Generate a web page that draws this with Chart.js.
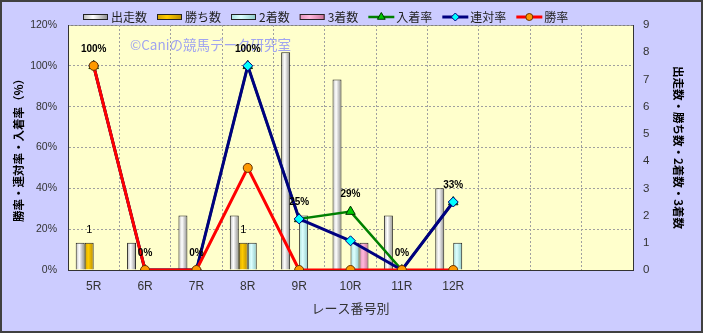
<!DOCTYPE html>
<html>
<head>
<meta charset="utf-8">
<script src="https://cdn.jsdelivr.net/npm/chart.js@4.4.1/dist/chart.umd.min.js"></script>
<style>
  html, body { margin: 0; padding: 0; background: #CCCCFF; }
  canvas { display: block; }
</style>
</head>
<body>
<canvas id="chartRace" width="703" height="333"></canvas>
<script>
/* ---------- Data ---------- */
const races     = ['5R', '6R', '7R', '8R', '9R', '10R', '11R', '12R', '', '', ''];
const starts    = [1, 1, 2, 2, 8, 7, 2, 3, null, null, null];   // 出走数
const wins      = [1, 0, 0, 1, 0, 0, 0, 0, null, null, null];   // 勝ち数
const seconds   = [0, 0, 0, 1, 2, 1, 0, 1, null, null, null];   // 2着数
const thirds    = [0, 0, 0, 0, 0, 1, 0, 0, null, null, null];   // 3着数
const placeRate = [100, 0, 0, 100, 25, 28.6, 0, 33.3, null, null, null]; // 入着率
const top2Rate  = [100, 0, 0, 100, 25, 14.3, 0, 33.3, null, null, null]; // 連対率
const winRate   = [100, 0, 0, 50, 0, 0, 0, 0, null, null, null];        // 勝率

const JP = '"Noto Sans CJK JP", sans-serif';
const LAT = '"Liberation Sans", Arial, sans-serif';
const CAT_PCT = 0.7;

/* ---------- Bar gradient (cylinder look) ---------- */
function barFill(edge, mid, edge2) {
    return (c) => {
        const chart = c.chart, area = chart.chartArea;
        if (!area || c.type !== 'data' || !chart.scales.x) return mid;
        const bw = area.width / races.length * CAT_PCT / 4;
        const cx = chart.scales.x.getPixelForValue(c.dataIndex) + (c.datasetIndex - 1.5) * bw;
        const g = chart.ctx.createLinearGradient(cx - bw / 2, 0, cx + bw / 2, 0);
        g.addColorStop(0, edge);
        g.addColorStop(0.4, mid);
        g.addColorStop(1, edge2);
        return g;
    };
}

const barColors = [
    ['#B8B8B8', '#FFFFFF', '#8C8C8C'],
    ['#D0A000', '#FFCC00', '#B88C00'],
    ['#A8E0E0', '#DDFFFF', '#8CC8C8'],
    ['#E090B8', '#FFB8DC', '#C87098']
];

function barSet(label, data, i) {
    return {
        type: 'bar', label, data, yAxisID: 'y1', order: 4,
        backgroundColor: barFill(...barColors[i]),
        borderColor: '#222', borderWidth: 1,
        categoryPercentage: CAT_PCT, barPercentage: 1
    };
}

/* ---------- Plugins ---------- */
const backdrop = {
    id: 'backdrop',
    beforeDraw(chart) {
        const { ctx, chartArea: a } = chart;
        ctx.save();
        ctx.fillStyle = '#CCCCFF';
        ctx.fillRect(0, 0, chart.width, chart.height);
        ctx.fillStyle = '#FFFFCC';
        ctx.fillRect(a.left, a.top, a.width, a.height);
        ctx.strokeStyle = '#808080';
        ctx.lineWidth = 1;
        ctx.strokeRect(a.left + 0.5, a.top + 0.5, a.width, a.height);
        ctx.restore();
    },
    beforeDatasetsDraw(chart) {
        const ctx = chart.ctx;
        ctx.save();
        ctx.font = '13.5px ' + JP;
        ctx.fillStyle = '#A0A4F0';
        ctx.textBaseline = 'middle';
        ctx.fillText('©Caniの競馬データ研究室', 130, 45);
        ctx.restore();
    },
    afterDraw(chart) {
        const ctx = chart.ctx;
        ctx.save();
        ctx.strokeStyle = '#404040';
        ctx.lineWidth = 2;
        ctx.strokeRect(1, 1, chart.width - 2, chart.height - 2);
        ctx.restore();
    }
};

const valueLabels = {
    id: 'valueLabels',
    afterDatasetsDraw(chart) {
        const ctx = chart.ctx;
        ctx.save();
        ctx.fillStyle = '#000';
        ctx.textAlign = 'center';
        ctx.textBaseline = 'middle';
        ctx.font = 'bold 10px ' + LAT;
        chart.getDatasetMeta(4).data.forEach((pt, i) => {
            if (placeRate[i] == null) return;
            ctx.fillText(Math.round(placeRate[i]) + '%', pt.x, pt.y - 17);
        });
        ctx.font = '11px ' + LAT;
        chart.getDatasetMeta(1).data.forEach((b, i) => {
            if (wins[i] > 0) ctx.fillText(String(wins[i]), b.x, b.y - 13);
        });
        ctx.restore();
    }
};

const topLegend = {
    id: 'topLegend',
    afterDraw(chart) {
        const ctx = chart.ctx;
        const y = 17;
        let x = 83;
        ctx.save();
        ctx.font = '12px ' + JP;
        ctx.textBaseline = 'middle';
        chart.data.datasets.forEach((ds, i) => {
            if (ds.type === 'bar') {
                const g = ctx.createLinearGradient(x, 0, x + 25, 0);
                g.addColorStop(0, barColors[i][0]);
                g.addColorStop(0.4, barColors[i][1]);
                g.addColorStop(1, barColors[i][2]);
                ctx.fillStyle = g;
                ctx.fillRect(x, y - 3, 25, 6);
                ctx.strokeStyle = '#222';
                ctx.lineWidth = 1;
                ctx.strokeRect(x + 0.5, y - 2.5, 24, 5);
            } else {
                ctx.strokeStyle = ds.borderColor;
                ctx.lineWidth = ds.borderWidth;
                ctx.beginPath();
                ctx.moveTo(x, y);
                ctx.lineTo(x + 26, y);
                ctx.stroke();
                ctx.fillStyle = ds.pointBackgroundColor;
                ctx.strokeStyle = ds.pointBorderColor;
                ctx.lineWidth = 1;
                Chart.helpers.drawPoint(ctx, { pointStyle: ds.pointStyle, radius: ds.pointRadius - 1, rotation: 0, borderWidth: 1 }, x + 13, y);
            }
            ctx.fillStyle = '#222';
            ctx.fillText(ds.label, x + 28, y + 0.5);
            x += 28 + ctx.measureText(ds.label).width + 10;
        });
        ctx.restore();
    }
};

/* ---------- Chart ---------- */
Chart.defaults.font.family = LAT;
Chart.defaults.color = '#333';

const gridDash = [2, 2];

new Chart(document.getElementById('chartRace'), {
    data: {
        labels: races,
        datasets: [
            barSet('出走数', starts, 0),
            barSet('勝ち数', wins, 1),
            barSet('2着数', seconds, 2),
            barSet('3着数', thirds, 3),
            {
                type: 'line', label: '入着率', data: placeRate, yAxisID: 'y', order: 3,
                borderColor: '#008000', borderWidth: 2.5, tension: 0,
                pointStyle: 'triangle', pointRadius: 5.5,
                pointBackgroundColor: '#00CC00', pointBorderColor: '#003300', pointBorderWidth: 1
            },
            {
                type: 'line', label: '連対率', data: top2Rate, yAxisID: 'y', order: 2,
                borderColor: '#000080', borderWidth: 3, tension: 0,
                pointStyle: 'rectRot', pointRadius: 5,
                pointBackgroundColor: '#00FFFF', pointBorderColor: '#000080', pointBorderWidth: 1
            },
            {
                type: 'line', label: '勝率', data: winRate, yAxisID: 'y', order: 1,
                borderColor: '#FF0000', borderWidth: 3, tension: 0,
                pointStyle: 'circle', pointRadius: 4.5,
                pointBackgroundColor: '#FF9900', pointBorderColor: '#663300', pointBorderWidth: 1
            }
        ]
    },
    options: {
        responsive: false,
        animation: false,
        devicePixelRatio: 1,
        layout: { padding: { top: 25, left: 0, right: 0, bottom: 0 } },
        plugins: { legend: { display: false }, tooltip: { enabled: false } },
        scales: {
            x: {
                afterFit: (s) => { s.height = 63; },
                grid: { color: '#A0A0A0', drawTicks: false },
                border: { display: true, color: '#333', dash: gridDash },
                ticks: { padding: 9, font: { size: 12 }, color: '#333' },
                title: {
                    display: true, text: 'レース番号別', color: '#333',
                    font: { family: JP, size: 13 }, padding: { top: 0, bottom: 17 }
                }
            },
            y: {
                position: 'left', min: 0, max: 120,
                afterFit: (s) => { s.width = 68; },
                grid: { color: '#A0A0A0', drawTicks: false },
                border: { display: true, color: '#333', dash: gridDash },
                ticks: { stepSize: 20, padding: 11, font: { size: 10.5 }, color: '#333', callback: (v) => v + '%' },
                title: {
                    display: true, text: '勝率・連対率・入着率（%）', color: '#000',
                    font: { family: JP, size: 11.5, weight: 'bold' }, padding: { top: 12, bottom: 0 }
                }
            },
            y1: {
                position: 'right', min: 0, max: 9,
                afterFit: (s) => { s.width = 70; },
                grid: { drawOnChartArea: false, drawTicks: false },
                border: { display: true, color: '#333' },
                ticks: { stepSize: 1, padding: 10, font: { size: 11.5 }, color: '#333' },
                title: {
                    display: true, text: '出走数・勝ち数・2着数・3着数', color: '#000',
                    font: { family: JP, size: 11.5, weight: 'bold' }, padding: { top: 18, bottom: 0 }
                }
            }
        }
    },
    plugins: [backdrop, valueLabels, topLegend]
});
</script>
</body>
</html>
